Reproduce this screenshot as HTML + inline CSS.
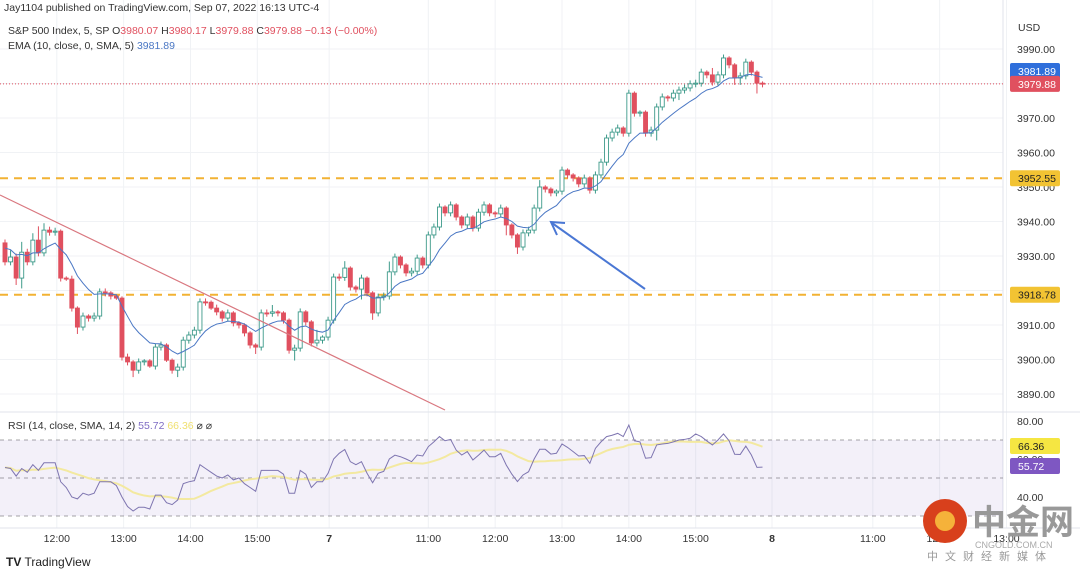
<!DOCTYPE html>
<html><head><meta charset="utf-8">
<style>
body{margin:0;background:#fff;width:1080px;height:571px;overflow:hidden;font-family:"Liberation Sans","Noto Sans CJK SC",sans-serif;}
svg text{font-family:"Liberation Sans","Noto Sans CJK SC",sans-serif;}
</style></head><body>
<svg id="chart" width="1080" height="571" xmlns="http://www.w3.org/2000/svg">
<g id="grid"></g>
<rect x="0" y="440" width="1003" height="76" fill="rgba(126,87,194,0.09)"/>
<g id="levels"></g>
<g id="candles"></g>
<g id="ind"></g>
<g id="axes"></g>
<line x1="0" y1="195" x2="445" y2="410" stroke="#d9777f" stroke-width="1.2"/>
<g>
<line x1="645" y1="289" x2="552" y2="223" stroke="#4a77d4" stroke-width="2"/>
<polyline points="565,223 551,222 557,235" fill="none" stroke="#4a77d4" stroke-width="2"/>
</g>
<text x="4" y="11" font-size="10.5" fill="#333">Jay1104 published on TradingView.com, Sep 07, 2022 16:13 UTC-4</text>
<text x="8" y="34" font-size="10.5" fill="#333">S&amp;P 500 Index, 5, SP  O<tspan fill="#e0505f">3980.07</tspan>  H<tspan fill="#e0505f">3980.17</tspan>  L<tspan fill="#e0505f">3979.88</tspan>  C<tspan fill="#e0505f">3979.88</tspan>  <tspan fill="#e0505f">−0.13 (−0.00%)</tspan></text>
<text x="8" y="49" font-size="10.5" fill="#333">EMA (10, close, 0, SMA, 5)  <tspan fill="#4a77c4">3981.89</tspan></text>
<text x="8" y="429" font-size="10.5" fill="#333">RSI (14, close, SMA, 14, 2)  <tspan fill="#7e6cc4">55.72</tspan>  <tspan fill="#f0e070">66.36</tspan>  ⌀  ⌀</text>
<text x="1018" y="31" font-size="10.5" fill="#333">USD</text>
<text x="6" y="566" font-size="12" fill="#222"><tspan font-weight="bold">TV</tspan> TradingView</text>
<g>
<circle cx="945" cy="521" r="22" fill="#d8401c"/>
<circle cx="945" cy="521" r="10" fill="#f5b23a"/>
<text x="972" y="534" font-size="34" font-weight="bold" fill="#999">中金网</text>
<text x="975" y="548" font-size="9" fill="#aaa">CNGOLD.COM.CN</text>
<text x="927" y="560" font-size="11" fill="#999" letter-spacing="7">中文财经新媒体</text>
</g>
</svg>
<script>
const closes=[3928.3,3929.7,3923.6,3931.1,3928.3,3934.6,3930.9,3937.5,3936.9,3937.2,3923.6,3923.3,3914.9,3909.4,3912.6,3912.0,3912.6,3919.6,3919.3,3918.4,3917.8,3900.7,3899.3,3896.9,3899.3,3899.6,3898.1,3903.6,3904.2,3899.8,3896.9,3897.8,3905.6,3907.1,3908.5,3916.7,3916.6,3914.9,3913.8,3912.0,3913.5,3910.6,3910.0,3907.7,3904.2,3903.6,3913.5,3913.4,3913.8,3913.5,3911.4,3902.7,3903.3,3913.8,3910.9,3904.8,3905.6,3906.5,3911.4,3923.9,3923.8,3926.5,3921.0,3920.4,3923.6,3919.3,3913.5,3918.1,3918.4,3925.4,3929.7,3927.4,3925.1,3925.6,3929.4,3927.4,3936.1,3938.4,3944.2,3942.5,3944.8,3941.3,3939.0,3941.3,3938.1,3942.7,3944.8,3942.5,3942.2,3943.9,3939.0,3936.1,3932.6,3936.7,3937.5,3943.9,3950.0,3949.4,3948.3,3948.8,3954.9,3953.5,3952.6,3950.9,3952.6,3949.1,3953.5,3957.2,3964.2,3965.9,3967.1,3965.6,3977.2,3971.4,3971.7,3965.6,3966.5,3973.2,3976.1,3975.8,3977.2,3978.1,3978.7,3979.9,3980.1,3983.3,3982.5,3980.4,3982.5,3987.4,3985.4,3981.6,3982.2,3986.2,3983.3,3980.1,3979.88];
const firstOpen=3933.8;
const wickUp=[1,2,1,3,1,2,4,2,1,1,0.5,0.5,1,0.5,1,0.5,1,1,1,0.5,0.5,0.5,1,0.5,1,0.5,0.5,1,1,0.5,0.5,1,1,1,1,1,1,0.5,1,0.5,1,0.5,0.5,0.5,0.5,0.5,1,1,2,0.5,0.5,0.5,1,1,0.5,0.5,3,0.5,1,1,1,2,0.5,0.5,1,0.5,0.5,1,1,3,1,0.5,0.5,1,1,0.5,1,1,1,0.5,1,0.5,0.5,1,0.5,1,1,0.5,0.5,1,0.5,0.5,0.5,1,1,1,2,0.5,0.5,0.5,1,0.5,0.5,0.5,1,0.5,1,1,1,1,1,0.5,1,0.5,0.5,0.5,1,1,1,0.5,1,1,1,1,1,1,0.5,2,1,1,0.5,0.5,1,1,0.5,0.5,0.5];
const wickDn=[1,1,2,3,1,1,1,1,1,1,1,0.5,1,2,1,1,1,1,1,1,0.5,1,1,2,1,1,0.5,1,1,0.5,1,2,1,1,1,1,1,0.5,1,1,1,1,1,1,1,2,1,1,1,1,1,1,3,1,1,1,1,1,1,1,1,1,1,1,3,1,2,1,1,1,1,1,1,1,1,1,1,1,1,1,1,1,1,1,1,1,1,1,1,1,3,1,2,1,1,1,1,1,1,1,1,1,1,1,1,1,1,1,1,1,1,1,1,1,1,1,1,3,1,1,1,2,1,1,1,1,1,1,1,1,1,2,2,1,1,3,1];
const rsiValues=[55.5,55,51,55,53,57,54,58,58,58,48,45,40,39,42,41,42,48,48,48,46,40,35,32.6,34.6,34.6,33.7,41,41,37,36,38.4,47,48,48.6,57,55,53,51,50,51.6,49,50,47,45,43,54,54,54,54,52,42,42,54,52,45,48,48,52.5,60,63,65,58.6,57,58.6,52.5,47.5,52.5,53.5,60,62,61.2,60,58.6,62.1,61.6,66.5,69,71.8,69.6,70.3,64.7,62.1,63.9,59.5,62,64.7,61.2,61.2,63,56.8,52,48.1,51.6,53.3,60,65.1,65.1,62.6,63,67.9,66.1,63.9,61.6,61.8,57.7,65.6,69,71.8,72.5,73.5,71.8,77.9,69.6,69,60.4,60.7,67.4,67.9,68.2,69,70,70.3,70.9,73.2,71.8,69.5,67.4,70,73.2,69.6,62.5,62.4,66.8,62.1,55.6,55.7];
const priceTicks=[3990,3980,3970,3960,3950,3940,3930,3920,3910,3900,3890];
const rsiTicks=[80,60,40];
const timeLabels=["12:00","13:00","14:00","15:00","7","11:00","12:00","13:00","14:00","15:00","8","11:00","12:00","13:00"];
const timeSlots=[9.3,21.3,33.3,45.3,58.2,76,88,100,112,124,137.7,155.8,167.8,179.8];
const levelPrices=[3952.55,3918.78];
const lastPrice=3979.88;

const NS="http://www.w3.org/2000/svg";
const X0=5,STEP=5.57,PR=1003;
const xi=i=>X0+i*STEP;
const py=p=>49+(3990-p)*3.45;
const ry=v=>421+(80-v)*1.9;
function mk(tag,attrs,parent){const e=document.createElementNS(NS,tag);for(const k in attrs)e.setAttribute(k,attrs[k]);parent.appendChild(e);return e;}
const grid=document.getElementById('grid'),cg=document.getElementById('candles'),ig=document.getElementById('ind'),ax=document.getElementById('axes'),lv=document.getElementById('levels');

priceTicks.forEach(p=>{
  const l=mk('line',{x1:0,x2:PR,y1:py(p),y2:py(p),stroke:'#f0f2f5'},grid);
  
  
  const t=mk('text',{x:1017,y:py(p)+4,'font-size':10.5,fill:'#333'},ax);t.textContent=p.toFixed(2);
  
  
});
rsiTicks.forEach(v=>{
  const t=mk('text',{x:1017,y:ry(v)+4,'font-size':10.5,fill:'#333'},ax);t.textContent=v.toFixed(2);
  
  
});
timeLabels.forEach((s,k)=>{
  const x=xi(timeSlots[k]);
  const l=mk('line',{x1:x,x2:x,y1:0,y2:528,stroke:'#f0f2f5'},grid);
  
  
  const t=mk('text',{x:x,y:542,'font-size':10.5,fill:'#333','text-anchor':'middle','font-weight':(s.length<3?'bold':'normal')},ax);t.textContent=s;
  
  
});
mk('line',{x1:0,x2:1080,y1:412,y2:412,stroke:'#e0e3eb'},grid);
mk('line',{x1:0,x2:1080,y1:528,y2:528,stroke:'#e0e3eb'},grid);
mk('line',{x1:PR,x2:PR,y1:0,y2:528,stroke:'#e0e3eb'},grid);
[70,50,30].forEach(v=>{const l=mk('line',{x1:0,x2:PR,y1:ry(v),y2:ry(v),stroke:'#888','stroke-dasharray':'4 4','stroke-width':0.8},grid);
  
  });

levelPrices.forEach(p=>{
  const l=mk('line',{x1:0,x2:PR,y1:py(p),y2:py(p),stroke:'#f2b233','stroke-width':2,'stroke-dasharray':'8 6'},lv);
  
  
  const r=mk('rect',{x:1010,y:py(p)-8,width:50,height:16,fill:'#f2c333',rx:2},ax);
  
  
  const t=mk('text',{x:1018,y:py(p)+4,'font-size':10.5,fill:'#222'},ax);t.textContent=p.toFixed(2);
  
  
});
const ll=mk('line',{x1:0,x2:PR,y1:py(lastPrice),y2:py(lastPrice),stroke:'#e0505f','stroke-dasharray':'1 2'},lv);



// candles
let prev=firstOpen;
closes.forEach((c,i)=>{
  const o=prev;prev=c;
  const up=c>=o;const x=xi(i);
  const hi=Math.max(o,c)+wickUp[i],lo=Math.min(o,c)-wickDn[i];
  const col=up?'#3d9a8a':'#e0505f';
  const w=mk('line',{x1:x,x2:x,y1:py(hi),y2:py(lo),stroke:col,'stroke-width':1},cg);
  
  
  const top=py(Math.max(o,c)),h=Math.max(1,py(Math.min(o,c))-top);
  const b=mk('rect',{x:x-2,y:top,width:4,height:h,fill:up?'#fff':col,stroke:col,'stroke-width':0.9},cg);
  
  
});

// EMA 10
let ema=[],a=2/11;closes.forEach((c,i)=>{ema.push(i===0?c+4:ema[i-1]+a*(c-ema[i-1]));});
const emaP=mk('polyline',{points:ema.map((v,i)=>xi(i)+','+py(v)).join(' '),fill:'none',stroke:'#4a77c4','stroke-width':1},ig);



// RSI + its SMA(14)
let sma=rsiValues.map((v,i)=>{const s=rsiValues.slice(Math.max(0,i-13),i+1);return s.reduce((p,q)=>p+q,0)/s.length;});
const sP=mk('polyline',{points:sma.map((v,i)=>xi(i)+','+ry(v)).join(' '),fill:'none',stroke:'#f3e9a0','stroke-width':2},ig);


const rP=mk('polyline',{points:rsiValues.map((v,i)=>xi(i)+','+ry(v)).join(' '),fill:'none',stroke:'#7e75b0','stroke-width':1},ig);



function badge(y,txt,bg,fg,name){
  const r=mk('rect',{x:1010,y:y-8,width:50,height:16,fill:bg,rx:2},ax);
  
  
  const t=mk('text',{x:1018,y:y+4,'font-size':10.5,fill:fg},ax);t.textContent=txt;
  
  
}
badge(71,'3981.89','#2f6fdb','#fff','ema-value-badge');
badge(py(lastPrice),lastPrice.toFixed(2),'#e0505f','#fff','last-price-badge');
badge(446,'66.36','#f5e642','#222','rsi-sma-badge');
badge(466,'55.72','#7e57c2','#fff','rsi-value-badge');
</script>
</body></html>
